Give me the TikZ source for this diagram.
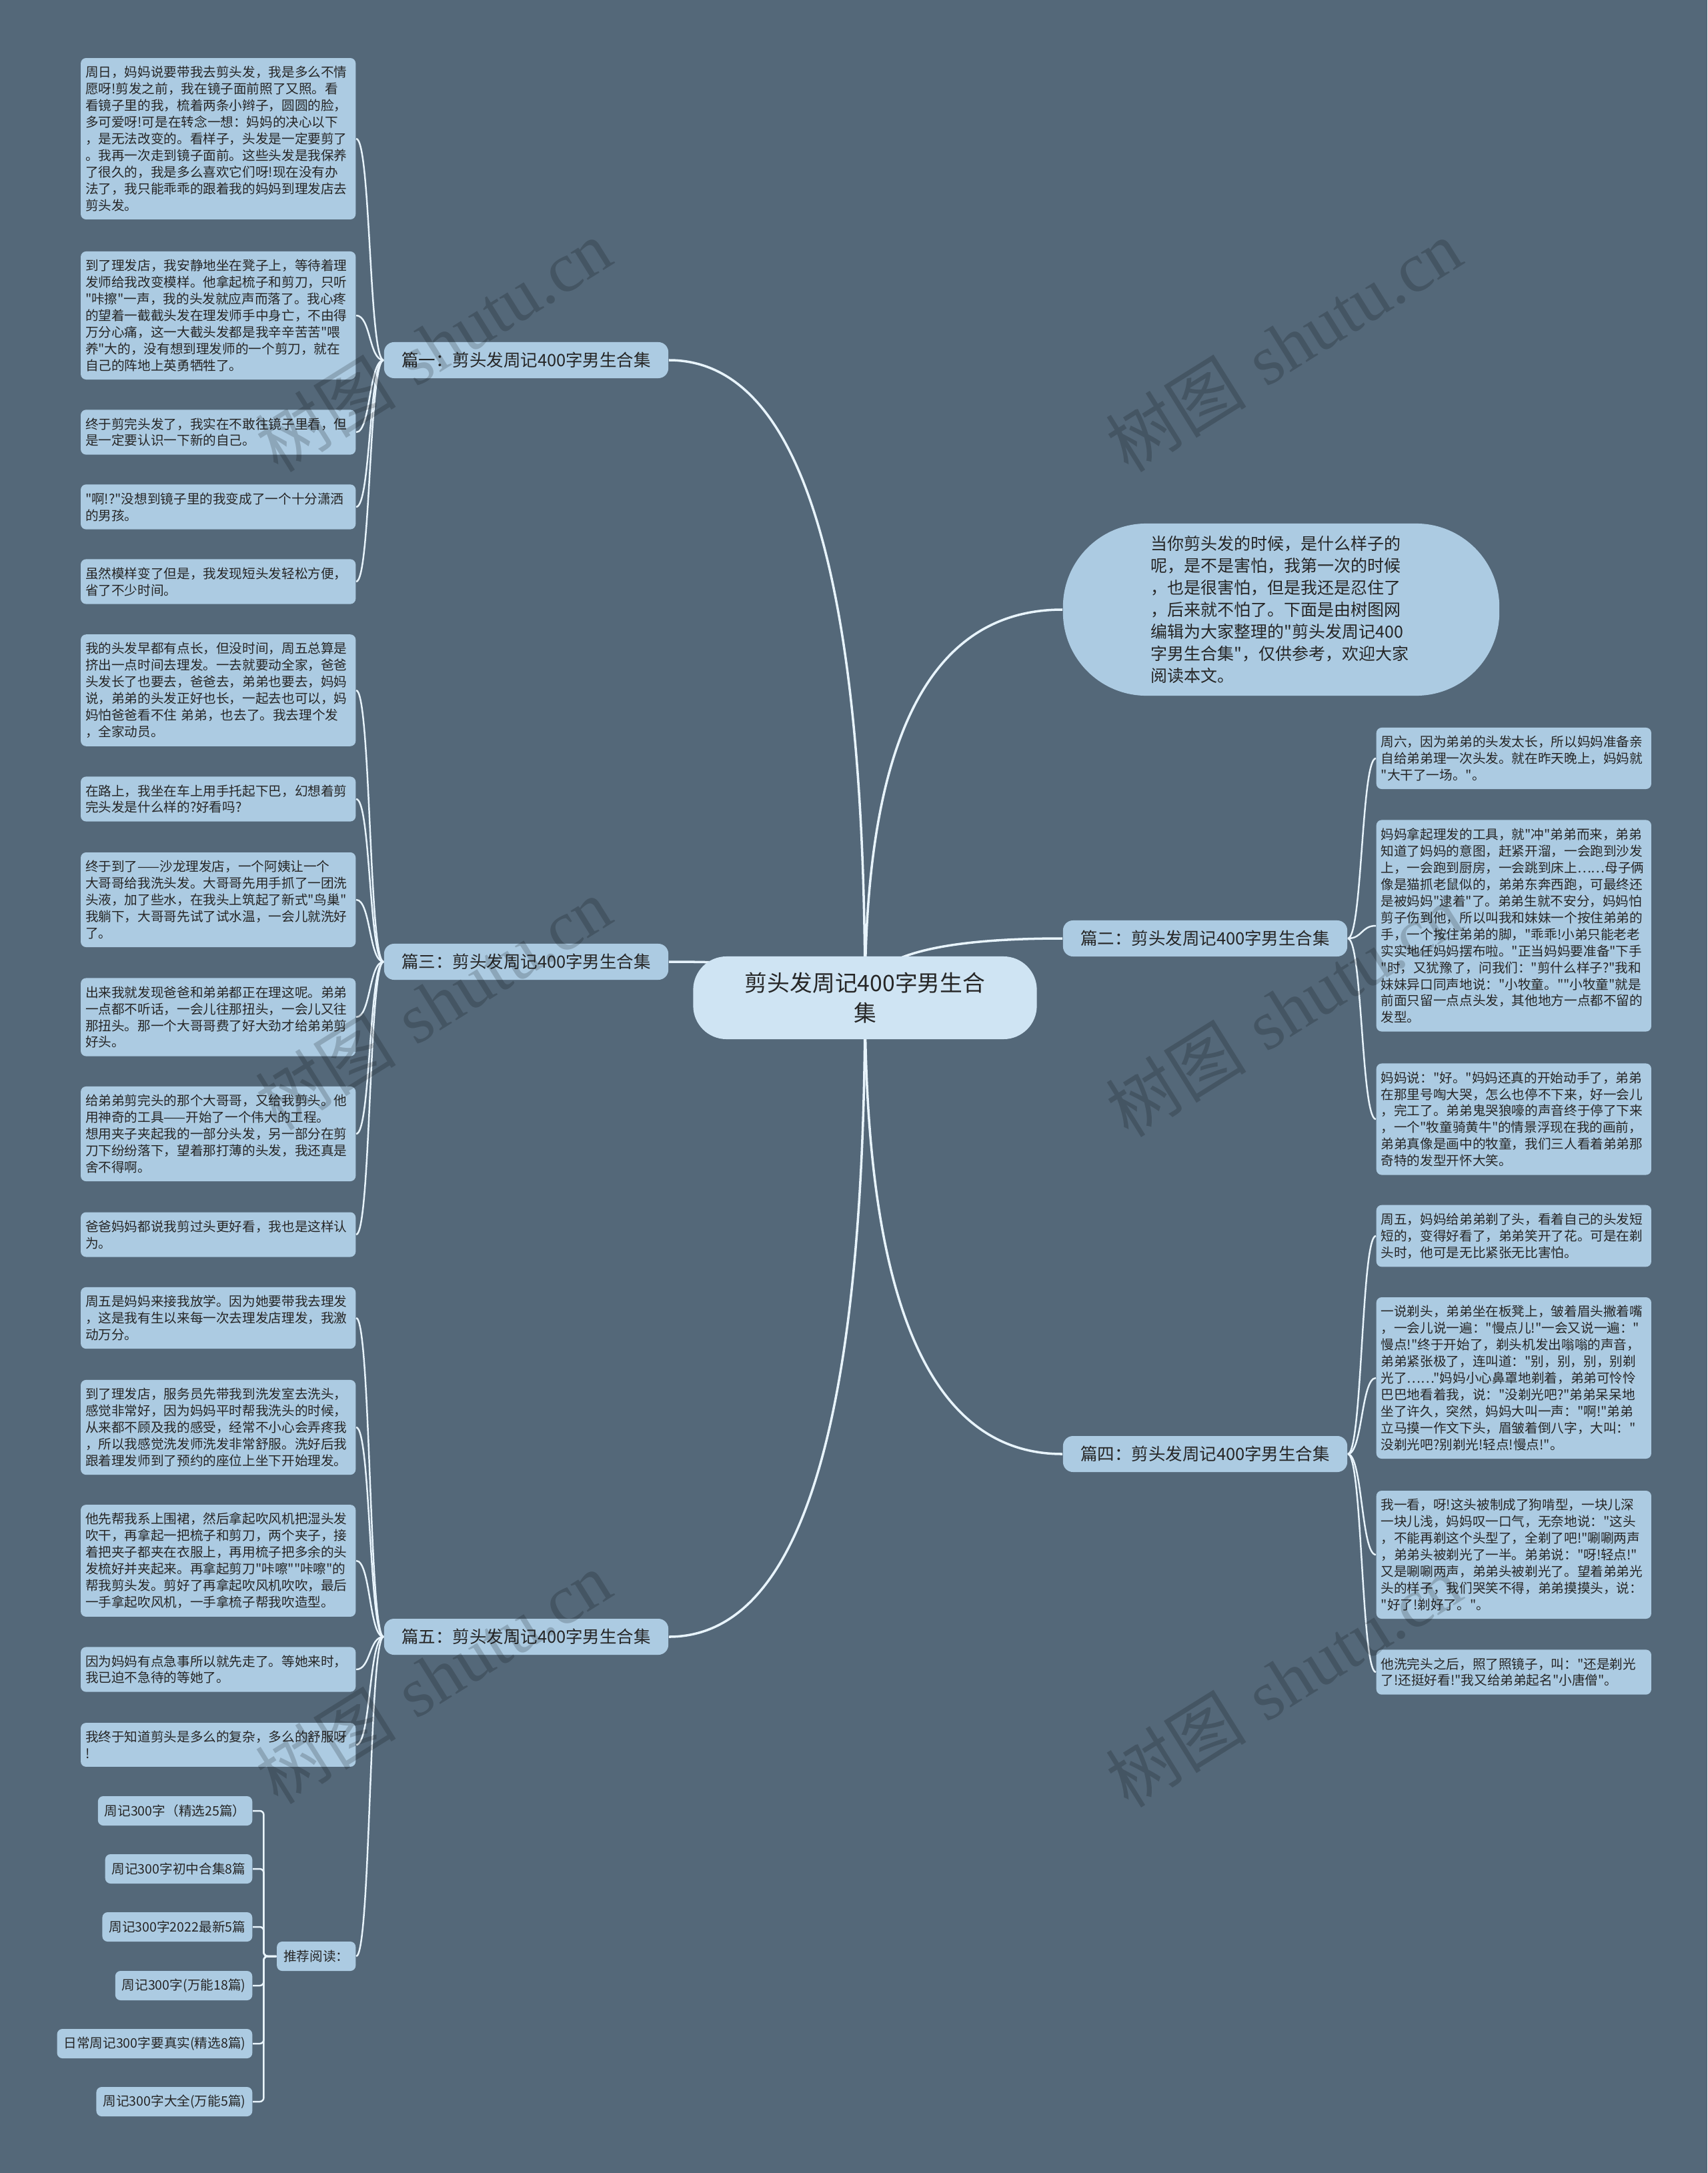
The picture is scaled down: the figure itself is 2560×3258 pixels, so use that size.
\documentclass[tikz,border=0pt]{standalone}
\usepackage{fontspec}
\usepackage{tikz}
\usetikzlibrary{calc, backgrounds}
\newfontfamily\cjk{Noto Sans CJK SC}
\newfontfamily\wmserif{Liberation Serif}
\definecolor{cBack}{RGB}{84,104,121}
\definecolor{cLeaf}{RGB}{172,203,226}
\definecolor{cRoot}{RGB}{207,228,243}
\definecolor{cText}{RGB}{38,38,38}
\definecolor{cLine}{RGB}{232,244,252}
\tikzset{
	rootbox/.style ={rectangle, rounded corners=0.5cm, fill=cRoot, text=cText, align=center, minimum width=5.15cm, minimum height=1.24cm, font=\cjk\fontsize{9.6pt}{13pt}\selectfont},
	introbox/.style={rectangle, rounded corners=1.25cm, fill=cLeaf, text=cText, align=left, text width=3.9cm, minimum width=6.54cm, minimum height=2.58cm, font=\cjk\fontsize{7.1pt}{9.4pt}\selectfont},
	pian/.style    ={rectangle, rounded corners=0.15cm, fill=cLeaf, text=cText, minimum width=4.26cm, minimum height=0.54cm, font=\cjk\fontsize{7.25pt}{9pt}\selectfont},
	leaf/.style    ={rectangle, rounded corners=0.08cm, fill=cLeaf, text=cText, align=left, text width=3.98cm, inner xsep=0.07cm, inner ysep=0.12cm, font=\cjk\fontsize{5.58pt}{7.1pt}\selectfont},
	recbox/.style  ={rectangle, rounded corners=0.08cm, fill=cLeaf, text=cText, inner xsep=0.1cm, minimum height=0.44cm, font=\cjk\fontsize{5.58pt}{7.1pt}\selectfont},
	% connectors
	trunk/.style   ={draw=cLine, line width=1pt},
	twig/.style    ={draw=cLine, line width=0.7pt},
	wm/.style      ={black, opacity=0.18, rotate=32, font=\fontsize{30pt}{30pt}\selectfont},
}
\begin{document}
\begin{tikzpicture}[x=0.01cm, y=-0.01cm]
	\useasboundingbox (0,0) rectangle (2560,3258);
	% centre
	\node[rootbox] (root) at (1297,1496) {剪头发周记400字男生合\\集};
	\node[introbox] (intro) at (1921,914) {当你剪头发的时候，是什么样子的\\
		呢，是不是害怕，我第一次的时候\\
		，也是很害怕，但是我还是忍住了\\
		，后来就不怕了。下面是由树图网\\
		编辑为大家整理的"剪头发周记400\\
		字男生合集"，仅供参考，欢迎大家\\
		阅读本文。};
	\node[pian] (pian1) at (789,540) {篇一：剪头发周记400字男生合集};
	\node[pian] (pian3) at (789,1442) {篇三：剪头发周记400字男生合集};
	\node[pian] (pian5) at (789,2454) {篇五：剪头发周记400字男生合集};
	\node[pian] (pian2) at (1807,1407) {篇二：剪头发周记400字男生合集};
	\node[pian] (pian4) at (1807,2180) {篇四：剪头发周记400字男生合集};
	% pian 1
	\node[leaf, anchor=east] (p1a) at (534,208) {周日，妈妈说要带我去剪头发，我是多么不情\\
		愿呀!剪发之前，我在镜子面前照了又照。看\\
		看镜子里的我，梳着两条小辫子，圆圆的脸，\\
		多可爱呀!可是在转念一想：妈妈的决心以下\\
		，是无法改变的。看样子，头发是一定要剪了\\
		。我再一次走到镜子面前。这些头发是我保养\\
		了很久的，我是多么喜欢它们呀!现在没有办\\
		法了，我只能乖乖的跟着我的妈妈到理发店去\\
		剪头发。};
	\node[leaf, anchor=east] (p1b) at (534,473) {到了理发店，我安静地坐在凳子上，等待着理\\
		发师给我改变模样。他拿起梳子和剪刀，只听\\
		"咔擦"一声，我的头发就应声而落了。我心疼\\
		的望着一截截头发在理发师手中身亡，不由得\\
		万分心痛，这一大截头发都是我辛辛苦苦"喂\\
		养"大的，没有想到理发师的一个剪刀，就在\\
		自己的阵地上英勇牺牲了。};
	\node[leaf, anchor=east] (p1c) at (534,648) {终于剪完头发了，我实在不敢往镜子里看，但\\
		是一定要认识一下新的自己。};
	\node[leaf, anchor=east] (p1d) at (534,760) {"啊!?"没想到镜子里的我变成了一个十分潇洒\\
		的男孩。};
	\node[leaf, anchor=east] (p1e) at (534,872) {虽然模样变了但是，我发现短头发轻松方便，\\
		省了不少时间。};
	% pian 3
	\node[leaf, anchor=east] (p3a) at (534,1035) {我的头发早都有点长，但没时间，周五总算是\\
		挤出一点时间去理发。一去就要动全家，爸爸\\
		头发长了也要去，爸爸去，弟弟也要去，妈妈\\
		说，弟弟的头发正好也长，一起去也可以，妈\\
		妈怕爸爸看不住~弟弟，也去了。我去理个发\\
		，全家动员。};
	\node[leaf, anchor=east] (p3b) at (534,1198) {在路上，我坐在车上用手托起下巴，幻想着剪\\
		完头发是什么样的?好看吗?};
	\node[leaf, anchor=east] (p3c) at (534,1349) {终于到了——沙龙理发店，一个阿姨让一个\\
		大哥哥给我洗头发。大哥哥先用手抓了一团洗\\
		头液，加了些水，在我头上筑起了新式"鸟巢"\\
		我躺下，大哥哥先试了试水温，一会儿就洗好\\
		了。};
	\node[leaf, anchor=east] (p3d) at (534,1525) {出来我就发现爸爸和弟弟都正在理这呢。弟弟\\
		一点都不听话，一会儿往那扭头，一会儿又往\\
		那扭头。那一个大哥哥费了好大劲才给弟弟剪\\
		好头。};
	\node[leaf, anchor=east] (p3e) at (534,1700) {给弟弟剪完头的那个大哥哥，又给我剪头。他\\
		用神奇的工具——开始了一个伟大的工程。\\
		想用夹子夹起我的一部分头发，另一部分在剪\\
		刀下纷纷落下，望着那打薄的头发，我还真是\\
		舍不得啊。};
	\node[leaf, anchor=east] (p3f) at (534,1851) {爸爸妈妈都说我剪过头更好看，我也是这样认\\
		为。};
	% pian 5
	\node[leaf, anchor=east] (p5a) at (534,1976) {周五是妈妈来接我放学。因为她要带我去理发\\
		，这是我有生以来每一次去理发店理发，我激\\
		动万分。};
	\node[leaf, anchor=east] (p5b) at (534,2140) {到了理发店，服务员先带我到洗发室去洗头，\\
		感觉非常好，因为妈妈平时帮我洗头的时候，\\
		从来都不顾及我的感受，经常不小心会弄疼我\\
		，所以我感觉洗发师洗发非常舒服。洗好后我\\
		跟着理发师到了预约的座位上坐下开始理发。};
	\node[leaf, anchor=east] (p5c) at (534,2340) {他先帮我系上围裙，然后拿起吹风机把湿头发\\
		吹干，再拿起一把梳子和剪刀，两个夹子，接\\
		着把夹子都夹在衣服上，再用梳子把多余的头\\
		发梳好并夹起来。再拿起剪刀"咔嚓""咔嚓"的\\
		帮我剪头发。剪好了再拿起吹风机吹吹，最后\\
		一手拿起吹风机，一手拿梳子帮我吹造型。};
	\node[leaf, anchor=east] (p5d) at (534,2503) {因为妈妈有点急事所以就先走了。等她来时，\\
		我已迫不急待的等她了。};
	\node[leaf, anchor=east] (p5e) at (534,2616) {我终于知道剪头是多么的复杂，多么的舒服呀\\
		!};
	\node[recbox, anchor=east] (tuijian) at (534,2933) {推荐阅读：};
	\node[recbox, anchor=east] (rec1) at (379,2715) {周记300字（精选25篇）};
	\node[recbox, anchor=east] (rec2) at (379,2802) {周记300字初中合集8篇};
	\node[recbox, anchor=east] (rec3) at (379,2889) {周记300字2022最新5篇};
	\node[recbox, anchor=east] (rec4) at (379,2977) {周记300字(万能18篇)};
	\node[recbox, anchor=east] (rec5) at (379,3064) {日常周记300字要真实(精选8篇)};
	\node[recbox, anchor=east] (rec6) at (379,3151) {周记300字大全(万能5篇)};
	% pian 2
	\node[leaf, anchor=west] (p2a) at (2063,1137) {周六，因为弟弟的头发太长，所以妈妈准备亲\\
		自给弟弟理一次头发。就在昨天晚上，妈妈就\\
		"大干了一场。"。};
	\node[leaf, anchor=west] (p2b) at (2063,1388) {妈妈拿起理发的工具，就"冲"弟弟而来，弟弟\\
		知道了妈妈的意图，赶紧开溜，一会跑到沙发\\
		上，一会跑到厨房，一会跳到床上……母子俩\\
		像是猫抓老鼠似的，弟弟东奔西跑，可最终还\\
		是被妈妈"逮着"了。弟弟生就不安分，妈妈怕\\
		剪子伤到他，所以叫我和妹妹一个按住弟弟的\\
		手，一个按住弟弟的脚，"乖乖!小弟只能老老\\
		实实地任妈妈摆布啦。"正当妈妈要准备"下手\\
		"时，又犹豫了，问我们："剪什么样子?"我和\\
		妹妹异口同声地说："小牧童。""小牧童"就是\\
		前面只留一点点头发，其他地方一点都不留的\\
		发型。};
	\node[leaf, anchor=west] (p2c) at (2063,1678) {妈妈说："好。"妈妈还真的开始动手了，弟弟\\
		在那里号啕大哭，怎么也停不下来，好一会儿\\
		，完工了。弟弟鬼哭狼嚎的声音终于停了下来\\
		，一个"牧童骑黄牛"的情景浮现在我的画前，\\
		弟弟真像是画中的牧童，我们三人看着弟弟那\\
		奇特的发型开怀大笑。};
	% pian 4
	\node[leaf, anchor=west] (p4a) at (2063,1853) {周五，妈妈给弟弟剃了头，看着自己的头发短\\
		短的，变得好看了，弟弟笑开了花。可是在剃\\
		头时，他可是无比紧张无比害怕。};
	\node[leaf, anchor=west] (p4b) at (2063,2066) {一说剃头，弟弟坐在板凳上，皱着眉头撇着嘴\\
		，一会儿说一遍："慢点儿!"一会又说一遍："\\
		慢点!"终于开始了，剃头机发出嗡嗡的声音，\\
		弟弟紧张极了，连叫道："别，别，别，别剃\\
		光了……"妈妈小心鼻罩地剃着，弟弟可怜怜\\
		巴巴地看着我，说："没剃光吧?"弟弟呆呆地\\
		坐了许久，突然，妈妈大叫一声："啊!"弟弟\\
		立马摸一作文下头，眉皱着倒八字，大叫："\\
		没剃光吧?别剃光!轻点!慢点!"。};
	\node[leaf, anchor=west] (p4c) at (2063,2331) {我一看，呀!这头被制成了狗啃型，一块儿深\\
		一块儿浅，妈妈叹一口气，无奈地说："这头\\
		，不能再剃这个头型了，全剃了吧!"唰唰两声\\
		，弟弟头被剃光了一半。弟弟说："呀!轻点!"\\
		又是唰唰两声，弟弟头被剃光了。望着弟弟光\\
		头的样子，我们哭笑不得，弟弟摸摸头，说：\\
		"好了!剃好了。"。};
	\node[leaf, anchor=west] (p4d) at (2063,2507) {他洗完头之后，照了照镜子，叫："还是剃光\\
		了!还挺好看!"我又给弟弟起名"小唐僧"。};
	\begin{scope}[on background layer]
		\fill[cBack] (0,0) rectangle (2560,3258);
		% trunks from the centre
		\coordinate (k1) at (root.center |- pian1.east);
		\coordinate (k3) at (root.center |- pian3.east);
		\coordinate (k5) at (root.center |- pian5.east);
		\coordinate (k0) at (root.center |- intro.west);
		\coordinate (k2) at (root.center |- pian2.west);
		\coordinate (k4) at (root.center |- pian4.west);
		\draw[trunk] (root.center) .. controls ($(root.center)!.67!(k1)$) and ($(pian1.east)!.67!(k1)$) .. (pian1.east);
		\draw[trunk] (root.center) .. controls ($(root.center)!.67!(k3)$) and ($(pian3.east)!.67!(k3)$) .. (pian3.east);
		\draw[trunk] (root.center) .. controls ($(root.center)!.67!(k5)$) and ($(pian5.east)!.67!(k5)$) .. (pian5.east);
		\draw[trunk] (root.center) .. controls ($(root.center)!.67!(k0)$) and ($(intro.west)!.67!(k0)$) .. (intro.west);
		\draw[trunk] (root.center) .. controls ($(root.center)!.67!(k2)$) and ($(pian2.west)!.67!(k2)$) .. (pian2.west);
		\draw[trunk] (root.center) .. controls ($(root.center)!.67!(k4)$) and ($(pian4.west)!.67!(k4)$) .. (pian4.west);
		% left twigs
		\draw[twig] (pian1.west) .. controls +(-22,0) and +(22,0) .. (p1a.east);
		\draw[twig] (pian1.west) .. controls +(-22,0) and +(22,0) .. (p1b.east);
		\draw[twig] (pian1.west) .. controls +(-22,0) and +(22,0) .. (p1c.east);
		\draw[twig] (pian1.west) .. controls +(-22,0) and +(22,0) .. (p1d.east);
		\draw[twig] (pian1.west) .. controls +(-22,0) and +(22,0) .. (p1e.east);
		\draw[twig] (pian3.west) .. controls +(-22,0) and +(22,0) .. (p3a.east);
		\draw[twig] (pian3.west) .. controls +(-22,0) and +(22,0) .. (p3b.east);
		\draw[twig] (pian3.west) .. controls +(-22,0) and +(22,0) .. (p3c.east);
		\draw[twig] (pian3.west) .. controls +(-22,0) and +(22,0) .. (p3d.east);
		\draw[twig] (pian3.west) .. controls +(-22,0) and +(22,0) .. (p3e.east);
		\draw[twig] (pian3.west) .. controls +(-22,0) and +(22,0) .. (p3f.east);
		\draw[twig] (pian5.west) .. controls +(-22,0) and +(22,0) .. (p5a.east);
		\draw[twig] (pian5.west) .. controls +(-22,0) and +(22,0) .. (p5b.east);
		\draw[twig] (pian5.west) .. controls +(-22,0) and +(22,0) .. (p5c.east);
		\draw[twig] (pian5.west) .. controls +(-22,0) and +(22,0) .. (p5d.east);
		\draw[twig] (pian5.west) .. controls +(-22,0) and +(22,0) .. (p5e.east);
		\draw[twig] (pian5.west) .. controls +(-22,0) and +(22,0) .. (tuijian.east);
		\draw[twig, rounded corners=0.06cm] (tuijian.west) -- ++(-19,0) |- (rec1.east);
		\draw[twig, rounded corners=0.06cm] (tuijian.west) -- ++(-19,0) |- (rec2.east);
		\draw[twig, rounded corners=0.06cm] (tuijian.west) -- ++(-19,0) |- (rec3.east);
		\draw[twig, rounded corners=0.06cm] (tuijian.west) -- ++(-19,0) |- (rec4.east);
		\draw[twig, rounded corners=0.06cm] (tuijian.west) -- ++(-19,0) |- (rec5.east);
		\draw[twig, rounded corners=0.06cm] (tuijian.west) -- ++(-19,0) |- (rec6.east);
		% right twigs
		\draw[twig] (pian2.east) .. controls +(22,0) and +(-22,0) .. (p2a.west);
		\draw[twig] (pian2.east) .. controls +(22,0) and +(-22,0) .. (p2b.west);
		\draw[twig] (pian2.east) .. controls +(22,0) and +(-22,0) .. (p2c.west);
		\draw[twig] (pian4.east) .. controls +(22,0) and +(-22,0) .. (p4a.west);
		\draw[twig] (pian4.east) .. controls +(22,0) and +(-22,0) .. (p4b.west);
		\draw[twig] (pian4.east) .. controls +(22,0) and +(-22,0) .. (p4c.west);
		\draw[twig] (pian4.east) .. controls +(22,0) and +(-22,0) .. (p4d.west);
	\end{scope}
	% watermarks
	\node[wm] (wm1) at (650,518) {{\cjk 树图} {\wmserif shutu.cn}};
	\node[wm] (wm2) at (1925,518) {{\cjk 树图} {\wmserif shutu.cn}};
	\node[wm] (wm3) at (650,1505) {{\cjk 树图} {\wmserif shutu.cn}};
	\node[wm] (wm4) at (1925,1515) {{\cjk 树图} {\wmserif shutu.cn}};
	\node[wm] (wm5) at (650,2515) {{\cjk 树图} {\wmserif shutu.cn}};
	\node[wm] (wm6) at (1925,2520) {{\cjk 树图} {\wmserif shutu.cn}};
\end{tikzpicture}
\end{document}
